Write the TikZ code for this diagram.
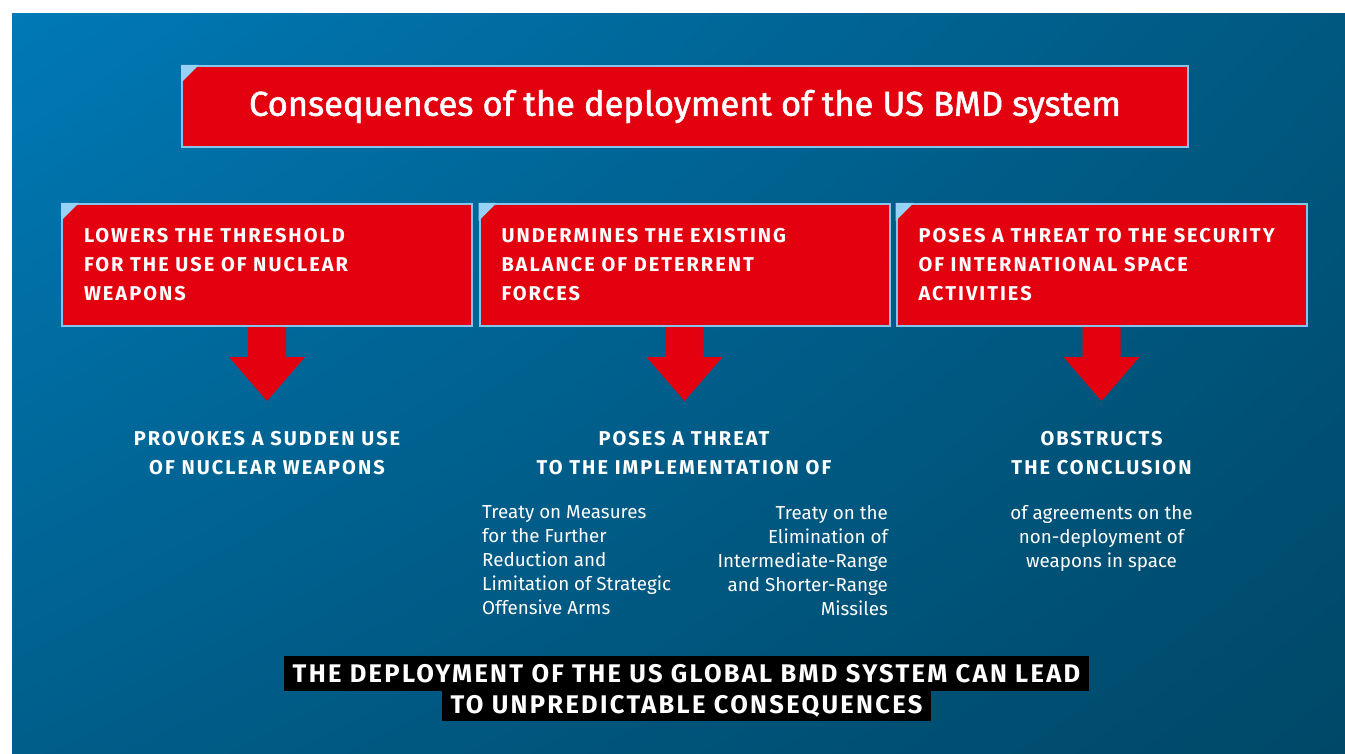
\documentclass[tikz,border=0pt]{standalone}
\usepackage{fontspec}
\setmainfont{Fira Sans}
\newfontfamily\capsfont[LetterSpace=10]{Fira Sans}
\newfontfamily\leadfont[LetterSpace=9]{Fira Sans}
\newfontfamily\headfont[FakeBold=1.6]{Fira Sans}
\usetikzlibrary{positioning,shadings}

\definecolor{bmdred}{RGB}{227,0,15}
\definecolor{edgeblue}{RGB}{135,196,235}
\definecolor{cornerblue}{RGB}{150,210,245}
\definecolor{bgtl}{RGB}{0,121,182}
\definecolor{bgtr}{RGB}{0,88,128}
\definecolor{bgbl}{RGB}{0,94,138}
\definecolor{bgbr}{RGB}{0,72,104}

\tikzset{
  redbox/.style={fill=bmdred, draw=edgeblue, line width=2pt, text=white,
    minimum width=410pt, minimum height=122pt, text width=366pt, align=left,
    inner xsep=22pt, font=\capsfont\bfseries\fontsize{20}{29}\selectfont},
  capline/.style={text=white, align=center, inner sep=0pt,
    font=\capsfont\bfseries\fontsize{20}{29}\selectfont},
  bodytext/.style={text=white, inner sep=0pt,
    font=\fontsize{18.8}{24}\selectfont},
  leadline/.style={fill=black, text=white, inner xsep=9pt, inner ysep=0pt,
    font=\leadfont\bfseries\fontsize{25.5}{28}\selectfont},
}

\begin{document}
\begin{tikzpicture}[x=1pt,y=-1pt]
    \useasboundingbox (0,0) rectangle (1345,754);
    \shade[upper left=bgtl, upper right=bgtr, lower left=bgbl, lower right=bgbr]
        (12,14) rectangle (1345,754);

    % title
    \node[redbox, minimum width=1006pt, minimum height=81pt, text width=, align=center,
        font=\headfont\fontsize{34.5}{40}\selectfont] (title) at (685,106.5)
        {Consequences of the deployment of the US BMD system};

    % the three effects
    \node[redbox] (lowers) at (267,265)
        {LOWERS THE THRESHOLD\\FOR THE USE OF NUCLEAR\\WEAPONS};
    \node[redbox] (undermines) at (684.5,265)
        {UNDERMINES THE EXISTING\\BALANCE OF DETERRENT\\FORCES};
    \node[redbox] (poses) at (1101.5,265)
        {POSES A THREAT TO THE SECURITY\\OF INTERNATIONAL SPACE\\ACTIVITIES};

    \foreach \b in {title,lowers,undermines,poses}
        \fill[cornerblue] (\b.north west) -- ++(18,0) -- ++(-18,18) -- cycle;

    \foreach \b in {lowers,undermines,poses}
        \fill[bmdred, shift={(\b.south)}]
            (-19,0) -- (19,0) -- (19,30) -- (38,30) -- (0,74) -- (-38,30) -- (-19,30) -- cycle;

    % what follows
    \node[capline] (provokes) at (267,453.5)
        {PROVOKES A SUDDEN USE\\OF NUCLEAR WEAPONS};
    \node[capline] (threat) at (684,453.5)
        {POSES A THREAT\\TO THE IMPLEMENTATION OF};
    \node[capline] (obstructs) at (1101.5,453.5)
        {OBSTRUCTS\\THE CONCLUSION};

    \node[bodytext, align=left, anchor=north west] (start) at (482,505)
        {Treaty on Measures\\for the Further\\Reduction and\\Limitation of Strategic\\Offensive Arms};
    \node[bodytext, align=right, anchor=north east] (inf) at (888,505)
        {Treaty on the\\Elimination of\\Intermediate-Range\\and Shorter-Range\\Missiles};
    \node[bodytext, align=center, anchor=north] (space) at (1101.5,505)
        {of agreements on the\\non-deployment of\\weapons in space};

    % conclusion
    \node[leadline, minimum height=35pt] (lead) at (686.5,673.5)
        {THE DEPLOYMENT OF THE US GLOBAL BMD SYSTEM CAN LEAD};
    \node[leadline, minimum height=30pt, below=0pt of lead] (leadb)
        {TO UNPREDICTABLE CONSEQUENCES};
\end{tikzpicture}
\end{document}
